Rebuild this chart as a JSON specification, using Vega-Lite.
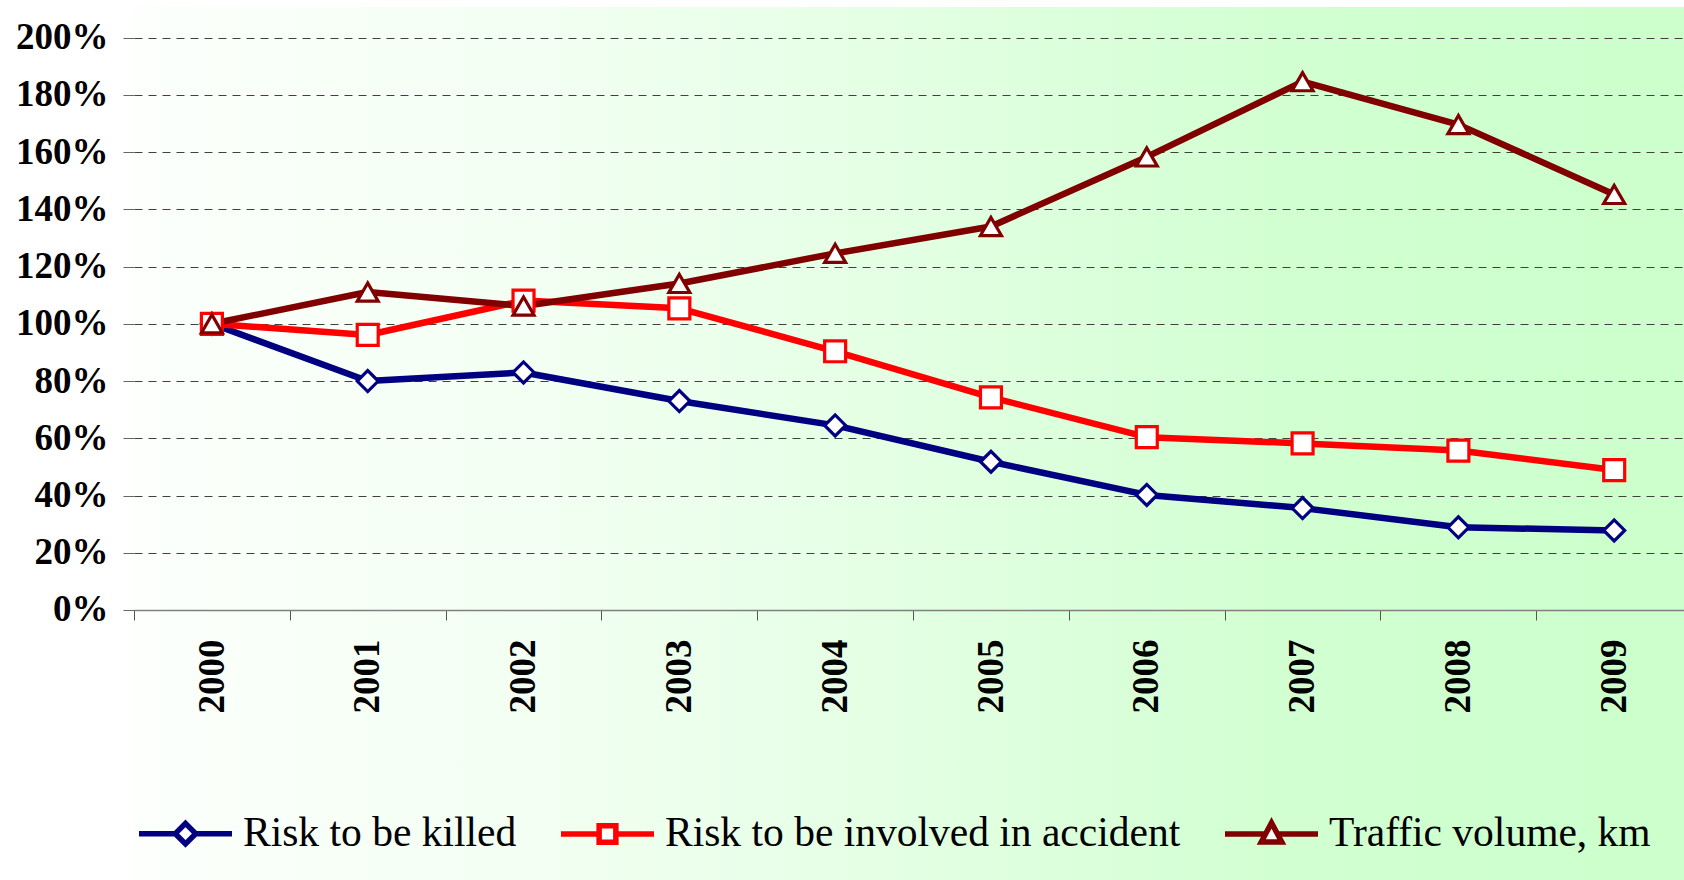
{
  "$schema": "https://vega.github.io/schema/vega-lite/v6.json",
  "width": 1550,
  "height": 873,
  "autosize": "none",
  "padding": {"left": 134, "top": 7, "right": 0, "bottom": 0},
  "background": "white",
  "config": {
    "font": "Liberation Serif",
    "view": {
      "stroke": null,
      "fill": {
        "gradient": "linear", "x1": 0, "y1": 0, "x2": 1, "y2": 0,
        "stops": [
          {"offset": 0, "color": "#FCFFFC"},
          {"offset": 0.25, "color": "#F3FFF3"},
          {"offset": 0.5, "color": "#E3FFE3"},
          {"offset": 0.75, "color": "#D1FFD1"},
          {"offset": 1, "color": "#CCFFCC"}
        ]
      }
    },
    "legend": {
      "orient": "none",
      "legendX": 2,
      "legendY": 777,
      "direction": "horizontal",
      "padding": 0,
      "symbolSize": 8649,
      "symbolStrokeWidth": 5.5,
      "symbolFillColor": "white",
      "symbolOpacity": 1,
      "labelFont": "Liberation Serif",
      "labelFontSize": 41.5,
      "labelFontWeight": "normal",
      "labelColor": "black",
      "labelLimit": 0,
      "labelOffset": 8,
      "columnPadding": 33
    }
  },
  "data": {
    "values": [
      {"year": 2000, "series": "Risk to be killed", "value": 100},
      {"year": 2001, "series": "Risk to be killed", "value": 80},
      {"year": 2002, "series": "Risk to be killed", "value": 83},
      {"year": 2003, "series": "Risk to be killed", "value": 73},
      {"year": 2004, "series": "Risk to be killed", "value": 64.5},
      {"year": 2005, "series": "Risk to be killed", "value": 51.8},
      {"year": 2006, "series": "Risk to be killed", "value": 40.2},
      {"year": 2007, "series": "Risk to be killed", "value": 35.6},
      {"year": 2008, "series": "Risk to be killed", "value": 28.9},
      {"year": 2009, "series": "Risk to be killed", "value": 27.8},
      {"year": 2000, "series": "Risk to be involved in accident", "value": 100},
      {"year": 2001, "series": "Risk to be involved in accident", "value": 96.1},
      {"year": 2002, "series": "Risk to be involved in accident", "value": 108.1},
      {"year": 2003, "series": "Risk to be involved in accident", "value": 105.4},
      {"year": 2004, "series": "Risk to be involved in accident", "value": 90.4},
      {"year": 2005, "series": "Risk to be involved in accident", "value": 74.3},
      {"year": 2006, "series": "Risk to be involved in accident", "value": 60.4},
      {"year": 2007, "series": "Risk to be involved in accident", "value": 58.2},
      {"year": 2008, "series": "Risk to be involved in accident", "value": 55.7},
      {"year": 2009, "series": "Risk to be involved in accident", "value": 48.9},
      {"year": 2000, "series": "Traffic volume, km", "value": 100},
      {"year": 2001, "series": "Traffic volume, km", "value": 111.1},
      {"year": 2002, "series": "Traffic volume, km", "value": 106.2},
      {"year": 2003, "series": "Traffic volume, km", "value": 114.1},
      {"year": 2004, "series": "Traffic volume, km", "value": 124.6},
      {"year": 2005, "series": "Traffic volume, km", "value": 134},
      {"year": 2006, "series": "Traffic volume, km", "value": 158.3},
      {"year": 2007, "series": "Traffic volume, km", "value": 184.6},
      {"year": 2008, "series": "Traffic volume, km", "value": 169.6},
      {"year": 2009, "series": "Traffic volume, km", "value": 145.2}
    ]
  },
  "encoding": {
    "x": {
      "field": "year", "type": "quantitative",
      "scale": {"domain": [1999.5, 2009.448], "nice": false, "zero": false}
    },
    "y": {
      "field": "value", "type": "quantitative",
      "scale": {"domain": [-94.34, 210.69], "nice": false, "zero": false}
    }
  },
  "layer": [
    {
      "mark": {"type": "line", "strokeWidth": 6.5, "strokeJoin": "round", "strokeCap": "round"},
      "encoding": {
        "x": {
          "field": "year", "type": "quantitative",
          "scale": {"domain": [1999.5, 2009.448], "nice": false, "zero": false},
          "axis": {
            "orient": "bottom",
            "offset": -270,
            "values": [1999.5, 2000.5, 2001.5, 2002.5, 2003.5, 2004.5, 2005.5, 2006.5, 2007.5, 2008.5],
            "labelExpr": "'' + (datum.value + 0.5)",
            "labelOffset": 78,
            "labelAngle": -90,
            "labelFont": "Liberation Serif",
            "labelFontSize": 37,
            "labelFontWeight": "bold",
            "labelColor": "black",
            "labelPadding": 19,
            "labelFlush": false,
            "labelOverlap": false,
            "labelBound": false,
            "tickSize": 10,
            "tickColor": "#555555",
            "tickWidth": 1,
            "domainColor": "#808080",
            "domainWidth": 1.5,
            "grid": false,
            "title": null
          }
        },
        "y": {
          "field": "value", "type": "quantitative",
          "scale": {"domain": [-94.34, 210.69], "nice": false, "zero": false},
          "axis": {
            "values": [0, 20, 40, 60, 80, 100, 120, 140, 160, 180, 200],
            "labelExpr": "datum.value + '%'",
            "labelFont": "Liberation Serif",
            "labelFontSize": 37,
            "labelFontWeight": "bold",
            "labelColor": "black",
            "labelPadding": 15,
            "labelOverlap": false,
            "labelBound": false,
            "labelFlush": false,
            "tickSize": 11,
            "tickColor": "#666666",
            "domain": false,
            "grid": true,
            "gridDash": [8, 6],
            "gridColor": "#404040",
            "gridWidth": 1,
            "title": null
          }
        },
        "color": {
          "field": "series", "type": "nominal",
          "scale": {"domain": ["Risk to be killed", "Risk to be involved in accident", "Traffic volume, km"], "range": ["#000080", "#FF0000", "#800000"]},
          "legend": null
        }
      }
    },
    {
      "data": {"values": [{}]},
      "mark": {"type": "rule", "color": "#000000", "strokeWidth": 1},
      "encoding": {
        "x": {"datum": 1999.5, "type": "quantitative"},
        "y": {"datum": 0, "type": "quantitative"},
        "y2": {"datum": 200}
      }
    },
    {
      "mark": {"type": "point", "filled": false, "fill": "white", "fillOpacity": 1, "opacity": 1, "strokeWidth": 3.2, "size": 440},
      "encoding": {
        "color": {
          "field": "series", "type": "nominal",
          "scale": {"domain": ["Risk to be killed", "Risk to be involved in accident", "Traffic volume, km"], "range": ["#000080", "#FF0000", "#800000"]},
          "legend": null
        },
        "shape": {
          "field": "series", "type": "nominal",
          "scale": {"domain": ["Risk to be killed", "Risk to be involved in accident", "Traffic volume, km"], "range": ["diamond", "square", "triangle-up"]},
          "legend": null
        }
      }
    },
    {
      "mark": {"type": "point", "filled": false, "fill": "white", "opacity": 0, "strokeWidth": 5.5},
      "encoding": {
        "color": {
          "field": "series", "type": "nominal",
          "scale": {"domain": ["Risk to be killed", "Risk to be involved in accident", "Traffic volume, km"], "range": ["#000080", "#FF0000", "#800000"]},
          "legend": {"title": null}
        },
        "shape": {
          "field": "series", "type": "nominal",
          "scale": {
            "domain": ["Risk to be killed", "Risk to be involved in accident", "Traffic volume, km"],
            "range": [
              "M-1,0H-0.22M0.22,0H1M0,-0.22L0.22,0L0,0.22L-0.22,0Z",
              "M-1,0H-0.18M0.18,0H1M-0.18,-0.18H0.18V0.18H-0.18Z",
              "M-1,0H-0.13M0.13,0H1M0,-0.24L0.22,0.17H-0.22Z"
            ]
          },
          "legend": {"title": null}
        }
      }
    }
  ],
  "resolve": {"scale": {"color": "independent", "shape": "independent"}}
}
